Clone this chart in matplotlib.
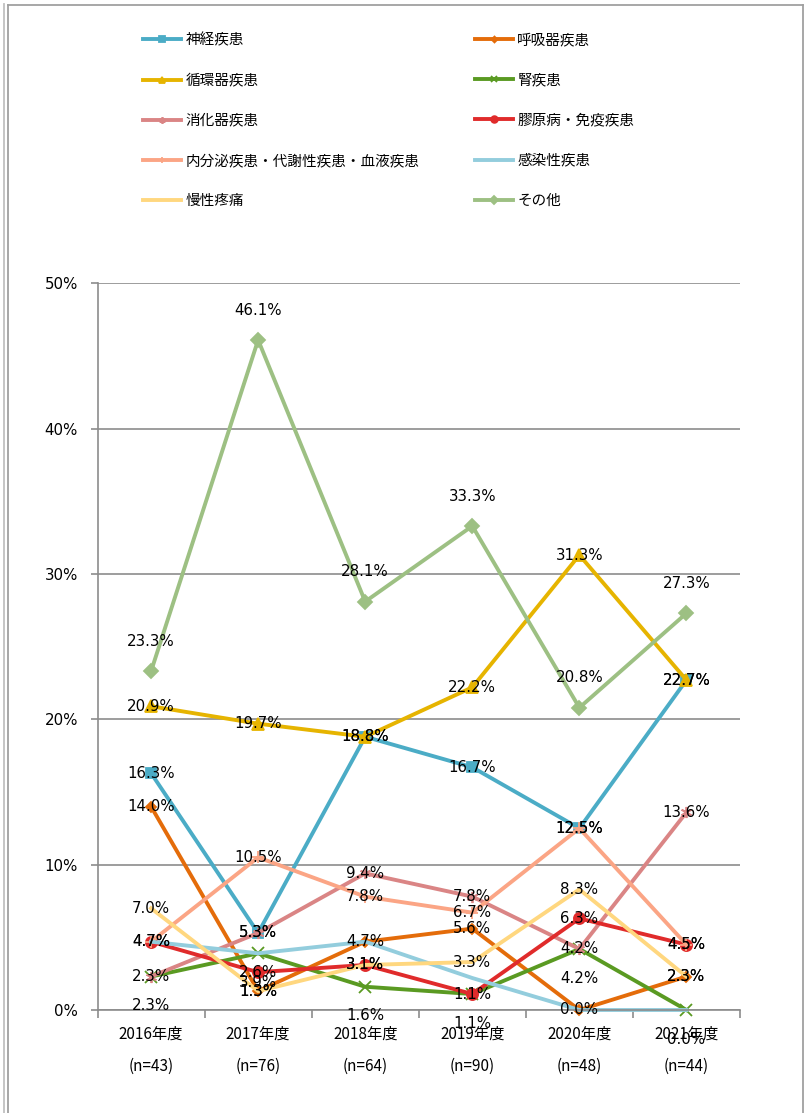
import matplotlib
matplotlib.use("Agg")
import matplotlib.pyplot as plt
from matplotlib.lines import Line2D
import numpy as np

plt.rcParams["font.family"] = ["DejaVu Sans", "Noto Sans CJK JP"]

W, H = 807, 1113

years = ["2016年度", "2017年度", "2018年度", "2019年度", "2020年度", "2021年度"]
counts = [43, 76, 64, 90, 48, 44]

# percentage of cases per disease group
shinkei = [16.3, 5.3, 18.8, 16.7, 12.5, 22.7]
kokyuki = [14.0, 1.3, 4.7, 5.6, 0.0, 2.3]
junkanki = [20.9, 19.7, 18.8, 22.2, 31.3, 22.7]
jin = [2.3, 3.9, 1.6, 1.1, 4.2, 0.0]
shokaki = [2.3, 5.3, 9.4, 7.8, 4.2, 13.6]
kogen = [4.7, 2.6, 3.1, 1.1, 6.3, 4.5]
naibunpi = [4.7, 10.5, 7.8, 6.7, 12.5, 4.5]
kansen = [4.7, 3.9, 4.7, 2.2, 0.0, 0.0]
mansei = [7.0, 1.3, 3.1, 3.3, 8.3, 2.3]
sonota = [23.3, 46.1, 28.1, 33.3, 20.8, 27.3]

# name, values, color, marker, marker size, label placement
series = [
    ("神経疾患", shinkei, "#4BACC6", "s", 7, "center"),
    ("呼吸器疾患", kokyuki, "#E46C0A", "D", 5, "center"),
    ("循環器疾患", junkanki, "#E6B400", "^", 8, "center"),
    ("腎疾患", jin, "#5A9A22", "x", 8, "below"),
    ("消化器疾患", shokaki, "#DA8585", (6, 2, 0), 8, "center"),
    ("膠原病・免疫疾患", kogen, "#E02B2B", "o", 8, "center"),
    ("内分泌疾患・代謝性疾患・血液疾患", naibunpi, "#FBA585", "+", 8, "center"),
    ("感染性疾患", kansen, "#93CDDD", "None", 0, None),
    ("慢性疼痛", mansei, "#FFD77F", "None", 0, "center"),
    ("その他", sonota, "#9DC083", "D", 7, "above"),
]

fig = plt.figure(figsize=(W / 100, H / 100), dpi=100)
ax = fig.add_axes([97.5 / W, 1 - 1010 / H, (740 - 97.5) / W, (1010 - 283.3) / H])

x = np.arange(len(years))
handles = []
for name, vals, color, marker, ms, place in series:
    ln, = ax.plot(x, vals, color=color, lw=2.8, marker=marker, ms=ms,
                  mew=1.3, mec=color, mfc=color, label=name, clip_on=False)
    handles.append(ln)

for name, vals, color, marker, ms, place in series:
    if place is None:
        continue
    dy = {"center": 0, "above": 21.5, "below": -21}[place]
    for i, v in enumerate(vals):
        ax.annotate(f"{v:.1f}%", (i, v), xytext=(0, dy), textcoords="offset points",
                    ha="center", va="center", fontsize=10.8, color="black", zorder=5)

ax.set_xlim(-0.5, len(years) - 0.5)
ax.set_ylim(0, 50)
ax.set_yticks(range(0, 51, 10))
ax.set_yticklabels([f"{t}%" for t in range(0, 51, 10)])
ax.yaxis.grid(True, color="#8C8C8C", lw=1.2)
ax.set_axisbelow(True)

ax.set_xticks(np.arange(-0.5, len(years), 1))
ax.set_xticklabels([])
ax.set_xticks(x, [f"{y}\n(n={n})" for y, n in zip(years, counts)], minor=True)
for lbl in ax.get_xticklabels(minor=True):
    lbl.set_fontfamily(["Noto Sans CJK JP", "DejaVu Sans"])
    lbl.set_linespacing(2.2)
ax.tick_params(axis="x", which="major", length=6, color="#8C8C8C", width=1.2)
ax.tick_params(axis="x", which="minor", length=0, pad=11, labelsize=11)
ax.tick_params(axis="y", length=5, color="#8C8C8C", width=1.2, pad=9, labelsize=10.8)

for side in ("top", "right"):
    ax.spines[side].set_visible(False)
for side in ("left", "bottom"):
    ax.spines[side].set_color("#8C8C8C")
    ax.spines[side].set_linewidth(1.2)

# legend in two columns, row by row
leg_kw = dict(loc="upper left", frameon=False, borderpad=0, borderaxespad=0,
              handlelength=2.6, handletextpad=0.3, labelspacing=1.8, markerscale=0.6,
              prop={"family": ["Noto Sans CJK JP"], "size": 10.5})
fig.legend(handles[0::2], [h.get_label() for h in handles[0::2]],
           bbox_to_anchor=(143 / W, 1 - 33 / H), **leg_kw)
fig.legend(handles[1::2], [h.get_label() for h in handles[1::2]],
           bbox_to_anchor=(475 / W, 1 - 33 / H), **leg_kw)

# outer frame
frame = "#A0A0A0"
fig.add_artist(Line2D([8 / W, 8 / W], [0, 1 - 4.5 / H], color=frame, lw=1.3))
fig.add_artist(Line2D([8 / W, 803 / W], [1 - 4.5 / H, 1 - 4.5 / H], color=frame, lw=1.3))
fig.add_artist(Line2D([803 / W, 803 / W], [0, 1 - 4.5 / H], color=frame, lw=1.3))
fig.add_artist(Line2D([4 / W, 4 / W], [0, 1 - 4 / H], color="#C0C0C0", lw=1.3))

fig.savefig("out.png", dpi=100)
